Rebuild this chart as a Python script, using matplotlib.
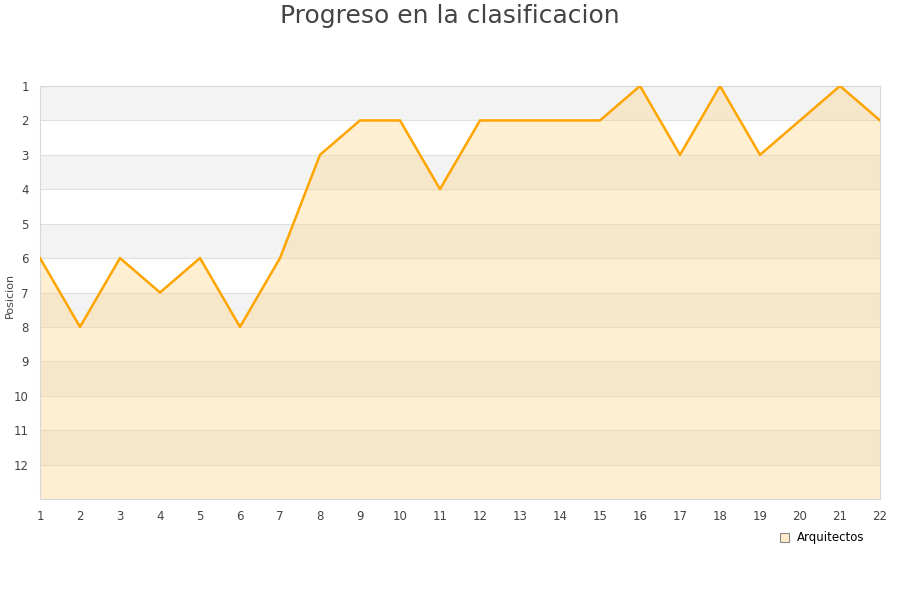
import matplotlib.pyplot as plt
import matplotlib.patches as mpatches

jornadas = list(range(1, 23))
posicion = [6, 8, 6, 7, 6, 8, 6, 3, 2, 2, 4, 2, 2, 2, 2, 1, 3, 1, 3, 2, 1, 2]
equipo = 'Arquitectos'
y_ticks = list(range(1, 13))

fig = plt.figure(figsize=(9, 6), dpi=100)
ax = fig.add_axes([40 / 900, 1 - 499 / 600, 840 / 900, 413 / 600])

# alternating bands
for k in range(1, 13):
    c = '#f3f3f3' if k % 2 == 1 else 'white'
    ax.axhspan(k, k + 1, color=c, zorder=0, lw=0)
    ax.axhline(k, color='#e0e0e0', lw=0.8, zorder=1)

ax.fill_between(jornadas, posicion, 13, color='#ffd27f', alpha=0.35, lw=0, zorder=2)
ax.plot(jornadas, posicion, color='#ffa500', lw=1.8, zorder=3)

ax.set_xlim(1, 22)
ax.set_ylim(13, 1)
ax.set_xticks(jornadas)
ax.set_yticks(y_ticks)
ax.tick_params(length=0, labelsize=8.5, colors='#444444', pad=8)
for s in ax.spines.values():
    s.set_color('#d8d8d8')

fig.text(10 / 900, 1 - 295 / 600, 'Posicion', rotation=90, ha='center', va='center',
         fontsize=8, color='#444444')
fig.text(0.5, 1 - 16 / 600, 'Progreso en la clasificacion', ha='center', va='center',
         fontsize=18, color='#444444')

handle = mpatches.Patch(facecolor='#feecca', edgecolor='#888888', lw=0.8, label=equipo)
fig.legend(handles=[handle], loc='center', bbox_to_anchor=(822 / 900, 1 - 538 / 600),
           frameon=False, fontsize=8.5, handlelength=0.8, handleheight=0.8,
           handletextpad=0.6)

fig.savefig('out.png', dpi=100)
